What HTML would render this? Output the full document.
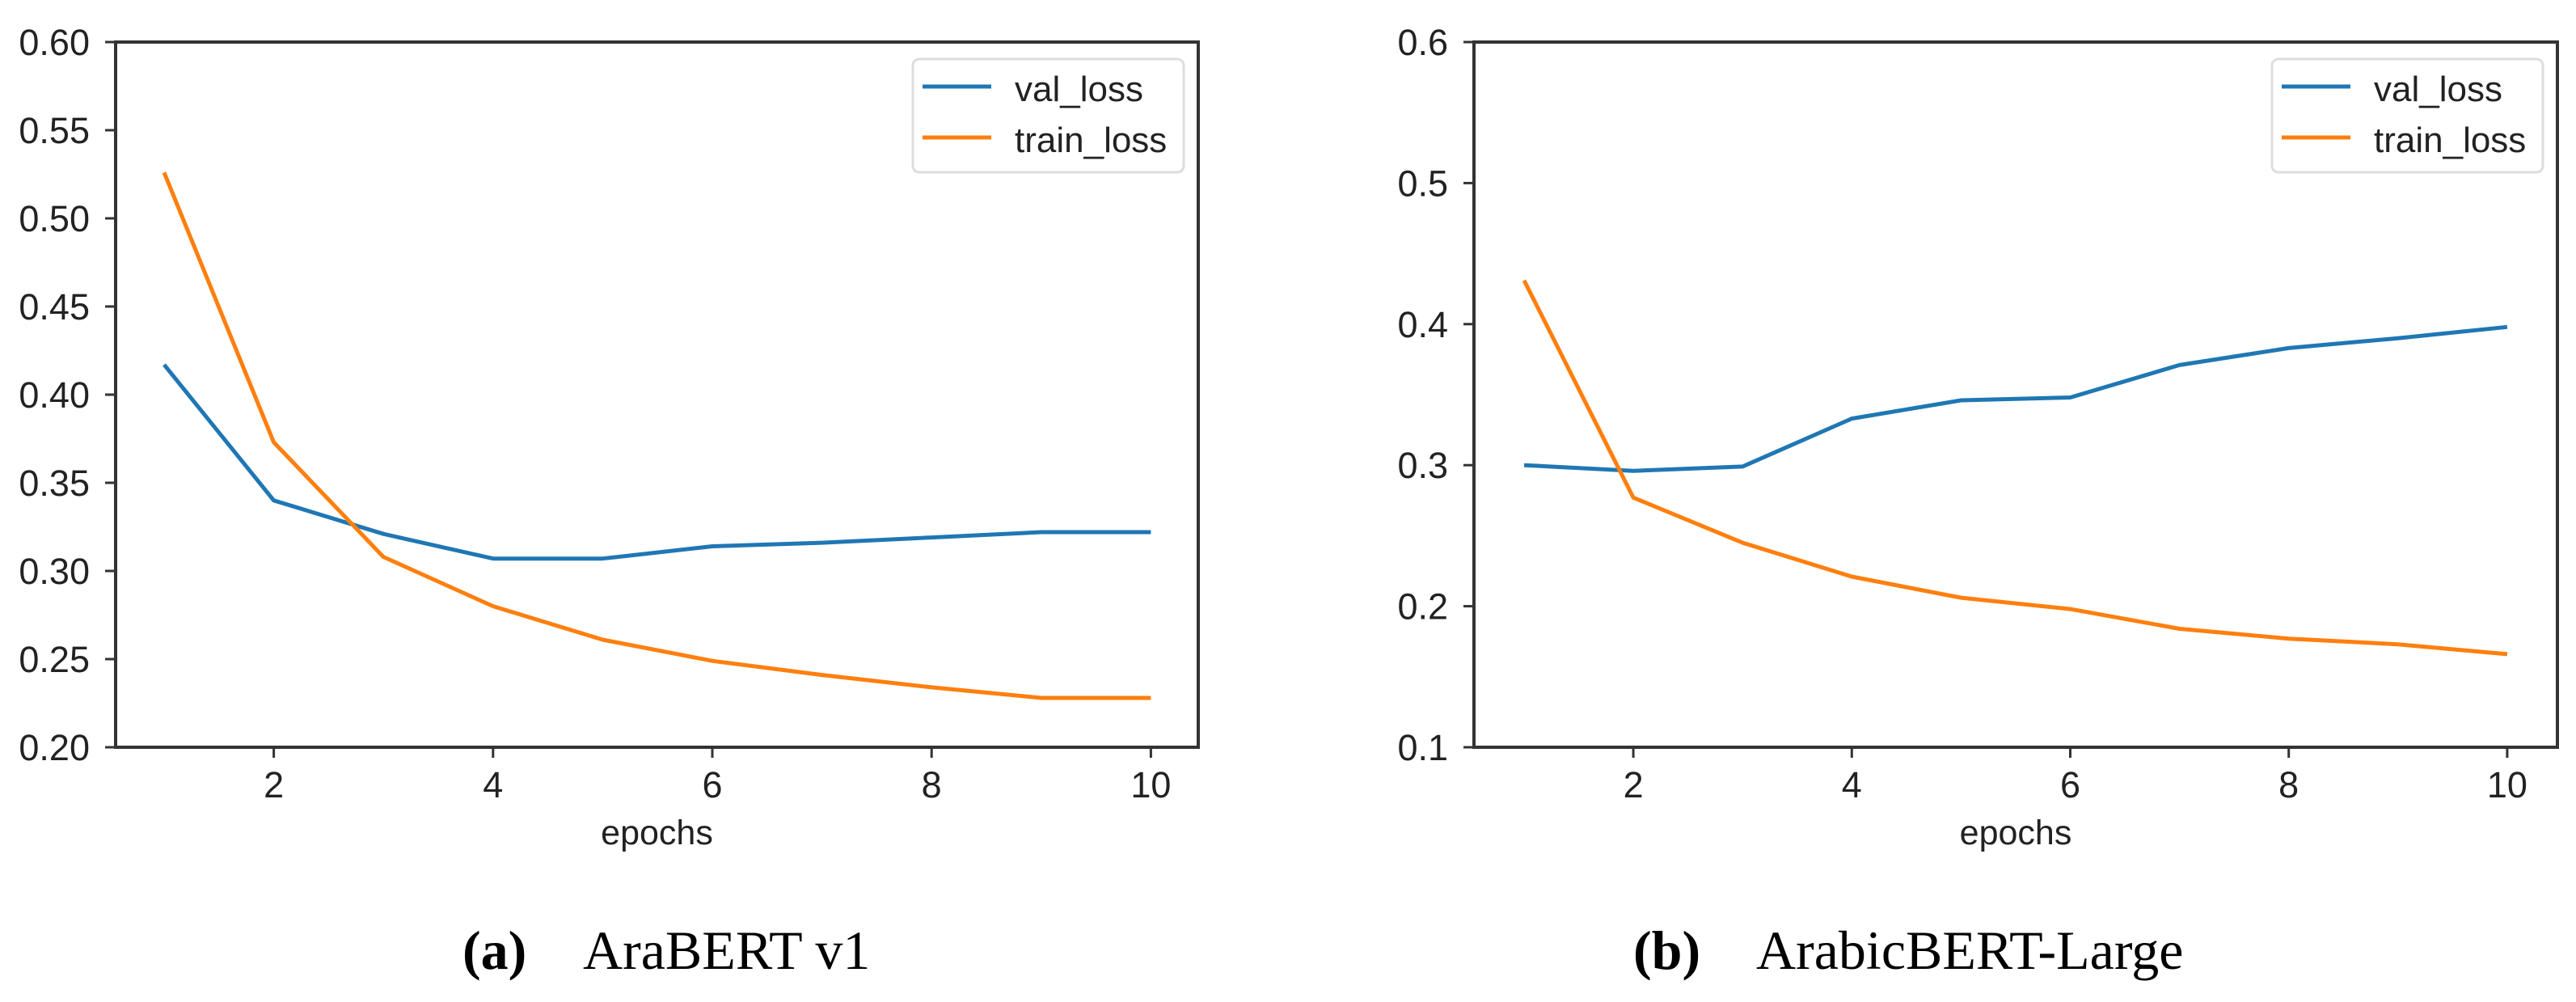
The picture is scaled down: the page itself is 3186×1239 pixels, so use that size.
<!DOCTYPE html>
<html><head><meta charset="utf-8"><style>
html,body{margin:0;padding:0;background:#fff;}
svg{display:block;}
</style></head><body>
<svg id="fig" width="3186" height="1239" viewBox="0 0 3186 1239" xmlns="http://www.w3.org/2000/svg" font-family="Liberation Sans, sans-serif">
<g id="chartA"></g>
<g id="chartB"></g>
<text x="572" y="1198" font-family="Liberation Serif, serif" font-size="68" fill="#000"><tspan font-weight="bold">(a)</tspan><tspan x="721">AraBERT v1</tspan></text>
<text x="2020" y="1198" font-family="Liberation Serif, serif" font-size="68" fill="#000"><tspan font-weight="bold">(b)</tspan><tspan x="2172">ArabicBERT-Large</tspan></text>
</svg>
<script>
const epochs = [1,2,3,4,5,6,7,8,9,10];
const xTicks = [2,4,6,8,10];
const valA = [0.417,0.340,0.321,0.307,0.307,0.314,0.316,0.319,0.322,0.322];
const trainA = [0.526,0.373,0.308,0.280,0.261,0.249,0.241,0.234,0.228,0.228];
const yTicksA = [0.20,0.25,0.30,0.35,0.40,0.45,0.50,0.55,0.60];
const yLabelsA = ["0.20","0.25","0.30","0.35","0.40","0.45","0.50","0.55","0.60"];
const valB = [0.300,0.296,0.299,0.333,0.346,0.348,0.371,0.383,0.390,0.398];
const trainB = [0.431,0.277,0.245,0.221,0.206,0.198,0.184,0.177,0.173,0.166];
const yTicksB = [0.1,0.2,0.3,0.4,0.5,0.6];
const yLabelsB = ["0.1","0.2","0.3","0.4","0.5","0.6"];

const NS = "http://www.w3.org/2000/svg";
function mk(parent, tag, attrs){
  const e = document.createElementNS(NS, tag);
  for (const k in attrs) e.setAttribute(k, attrs[k]);
  parent.appendChild(e);
  return e;
}
function draw(g, cfg){
  const xs = v => cfg.x1 + (v-1)*cfg.dx;
  const ys = v => cfg.bottom - (v-cfg.ymin)/(cfg.ymax-cfg.ymin)*(cfg.bottom-cfg.top);
  // series
  const series = [[cfg.val,"#1f77b4","val-loss-line"],[cfg.train,"#ff7f0e","train-loss-line"]];
  series.forEach(s=>{
    const pts = epochs.map((e,i)=>xs(e).toFixed(1)+","+ys(s[0][i]).toFixed(1)).join(" ");
    const p = mk(g,"polyline",{points:pts,fill:"none",stroke:s[1],"stroke-width":5,"stroke-linejoin":"round"});
    
    
  });
  // frame
  const fr = mk(g,"rect",{x:cfg.left,y:cfg.top,width:cfg.right-cfg.left,height:cfg.bottom-cfg.top,fill:"none",stroke:"#333","stroke-width":4});
  
  
  // x ticks
  xTicks.forEach(t=>{
    const x = xs(t);
    const l = mk(g,"line",{x1:x,y1:cfg.bottom,x2:x,y2:cfg.bottom+13,stroke:"#333","stroke-width":3});
    
    
    const tx = mk(g,"text",{x:x,y:cfg.bottom+62,"text-anchor":"middle","font-size":45,fill:"#222"});
    tx.textContent = t;
    
    
  });
  // y ticks
  cfg.yt.forEach((t,i)=>{
    const y = ys(t);
    const l = mk(g,"line",{x1:cfg.left-13,y1:y,x2:cfg.left,y2:y,stroke:"#333","stroke-width":3});
    
    
    const tx = mk(g,"text",{x:cfg.left-32,y:y+16,"text-anchor":"end","font-size":45,fill:"#222"});
    tx.textContent = cfg.yl[i];
    
    
  });
  // x axis title
  const xt = mk(g,"text",{x:(cfg.left+cfg.right)/2,y:cfg.bottom+120,"text-anchor":"middle","font-size":43,fill:"#222"});
  xt.textContent = "epochs";
  
  
  // legend
  const lg = mk(g,"g",{});
  
  
  const lx = cfg.right-18-335;
  mk(lg,"rect",{x:lx,y:73,width:335,height:140,rx:8,fill:"#fff",stroke:"#ddd","stroke-width":3});
  [["val_loss","#1f77b4",107],["train_loss","#ff7f0e",170]].forEach(e=>{
    const ln = mk(lg,"line",{x1:lx+12,y1:e[2],x2:lx+97,y2:e[2],stroke:e[1],"stroke-width":5});
    
    
    const t = mk(lg,"text",{x:lx+126,y:e[2]+18,"font-size":44,fill:"#222"});
    t.textContent = e[0];
    
    
  });
}
draw(document.getElementById("chartA"),{left:143,right:1482,top:52,bottom:924,x1:203,dx:135.6,ymin:0.2,ymax:0.6,val:valA,train:trainA,yt:yTicksA,yl:yLabelsA});
draw(document.getElementById("chartB"),{left:1823,right:3163,top:52,bottom:924,x1:1885,dx:135.1,ymin:0.1,ymax:0.6,val:valB,train:trainB,yt:yTicksB,yl:yLabelsB});
</script>
</body></html>
